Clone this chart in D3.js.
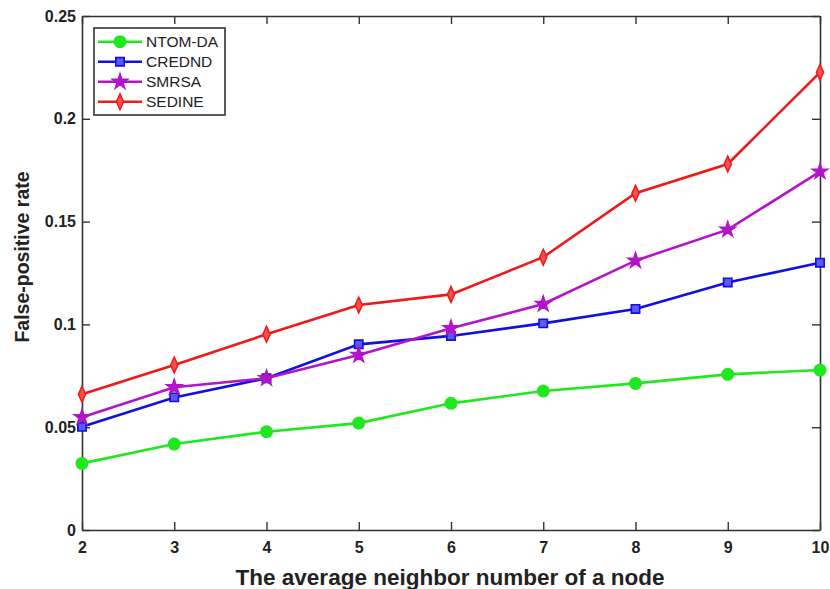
<!DOCTYPE html>
<html>
<head>
<meta charset="utf-8">
<script src="https://cdn.jsdelivr.net/npm/d3@7"></script>
<style>
  body { margin: 0; background: #fff; }
  svg { font-family: "Liberation Sans", Arial, sans-serif; }
</style>
</head>
<body>
<div id="chart"></div>
<script>
const xValues = [2, 3, 4, 5, 6, 7, 8, 9, 10];
const ntomDA = [0.0324, 0.0418, 0.0478, 0.052, 0.0616, 0.0676, 0.0713, 0.0757, 0.0778];
const crednd = [0.0502, 0.0645, 0.0738, 0.0903, 0.0944, 0.1005, 0.1075, 0.1204, 0.1300];
const smrsa = [0.0548, 0.0694, 0.0738, 0.0851, 0.0981, 0.1099, 0.131, 0.1461, 0.1743];
const sedine = [0.066, 0.0803, 0.0952, 0.1094, 0.1146, 0.1327, 0.1638, 0.178, 0.2226];
const yTicks = [0, 0.05, 0.1, 0.15, 0.2, 0.25];
const yTickLabels = ["0", "0.05", "0.1", "0.15", "0.2", "0.25"];

const series = [
    { name: "NTOM-DA", values: ntomDA, color: "#1fe81f", fill: "#1fe81f", marker: "circle" },
    { name: "CREDND", values: crednd, color: "#1010e0", fill: "#5a5af0", marker: "square" },
    { name: "SMRSA", values: smrsa, color: "#b414c8", fill: "#b414c8", marker: "star" },
    { name: "SEDINE", values: sedine, color: "#f01818", fill: "#f55050", marker: "diamond" },
];

const width = 830, height = 589;
const margin = { top: 16, right: 10, bottom: 59, left: 82 };
const plotW = width - margin.left - margin.right;
const plotH = height - margin.top - margin.bottom;

const svg = d3.select("#chart").append("svg").attr("width", width).attr("height", height);
const g = svg.append("g").attr("transform", `translate(${margin.left},${margin.top})`);

const x = d3.scaleLinear().domain([2, 10]).range([0, plotW]);
const y = d3.scaleLinear().domain([0, 0.25]).range([plotH, 0]);

const axisColor = "#333";
const tickLen = 8;

// Axes (inward ticks, box with mirrored ticks)
const xAxis = g.append("g")
    .attr("transform", `translate(0,${plotH})`)
    .call(d3.axisBottom(x).tickValues(xValues).tickSizeInner(-tickLen).tickSizeOuter(0).tickPadding(12).tickFormat(d3.format("d")));
const xTop = g.append("g")
    .call(d3.axisTop(x).tickValues(xValues).tickSizeInner(-tickLen).tickSizeOuter(0).tickFormat(""));
const yAxis = g.append("g")
    .call(d3.axisLeft(y).tickValues(yTicks).tickSizeInner(-tickLen).tickSizeOuter(0).tickPadding(6)
        .tickFormat((d, i) => yTickLabels[i]));
const yRight = g.append("g")
    .attr("transform", `translate(${plotW},0)`)
    .call(d3.axisRight(y).tickValues(yTicks).tickSizeInner(-tickLen).tickSizeOuter(0).tickFormat(""));

[xAxis, xTop, yAxis, yRight].forEach((a) => {
    a.select(".domain").attr("stroke", axisColor).attr("stroke-width", 1.6);
    a.selectAll(".tick line").attr("stroke", axisColor).attr("stroke-width", 1.4);
    a.selectAll(".tick text")
        .attr("fill", "#222")
        .style("font-size", "16px")
        .style("font-weight", "bold")
        .style("font-family", "'Liberation Sans', Arial, sans-serif");
});

// Lines
const line = d3.line().x((d, i) => x(xValues[i])).y((d) => y(d));

function drawMarker(sel, s, cx, cy) {
    if (s.marker === "circle") {
        sel.append("circle").attr("cx", cx).attr("cy", cy).attr("r", 6.5).attr("fill", s.fill);
    } else {
        const sym = {
            square: d3.symbolSquare,
            star: d3.symbolStar,
            diamond: d3.symbolDiamond,
        }[s.marker];
        const size = { square: 70, star: 70, diamond: 55 }[s.marker];
        sel.append("path")
            .attr("d", d3.symbol(sym, size)())
            .attr("transform", `translate(${cx},${cy})` + (s.marker === "diamond" ? " scale(0.9,1.15)" : ""))
            .attr("fill", s.fill)
            .attr("stroke", s.color)
            .attr("stroke-width", 1.6);
    }
}

series.forEach((s) => {
    g.append("path")
        .datum(s.values)
        .attr("fill", "none")
        .attr("stroke", s.color)
        .attr("stroke-width", 2.6)
        .attr("d", line);
    const mg = g.append("g");
    s.values.forEach((v, i) => drawMarker(mg, s, x(xValues[i]), y(v)));
});

// Legend
const legend = svg.append("g").attr("transform", "translate(94,28)");
legend.append("rect")
    .attr("width", 131).attr("height", 87)
    .attr("fill", "#fff").attr("stroke", axisColor).attr("stroke-width", 1.6);
series.forEach((s, i) => {
    const ly = 13.7 + i * 20;
    legend.append("line")
        .attr("x1", 4).attr("x2", 48).attr("y1", ly).attr("y2", ly)
        .attr("stroke", s.color).attr("stroke-width", 2.6);
    drawMarker(legend, s, 26, ly);
    legend.append("text")
        .attr("x", 52).attr("y", ly + 5.5)
        .attr("fill", "#222")
        .style("font-size", "15.5px")
        .text(s.name);
});

// Axis labels
svg.append("text")
    .attr("x", 450)
    .attr("y", 585)
    .attr("text-anchor", "middle")
    .attr("fill", "#222")
    .style("font-size", "22.5px")
    .style("font-weight", "bold")
    .text("The average neighbor number of a node");

svg.append("text")
    .attr("transform", `translate(29,257) rotate(-90)`)
    .attr("text-anchor", "middle")
    .attr("fill", "#222")
    .style("font-size", "19.5px")
    .style("font-weight", "bold")
    .text("False-positive rate");
</script>
</body>
</html>
